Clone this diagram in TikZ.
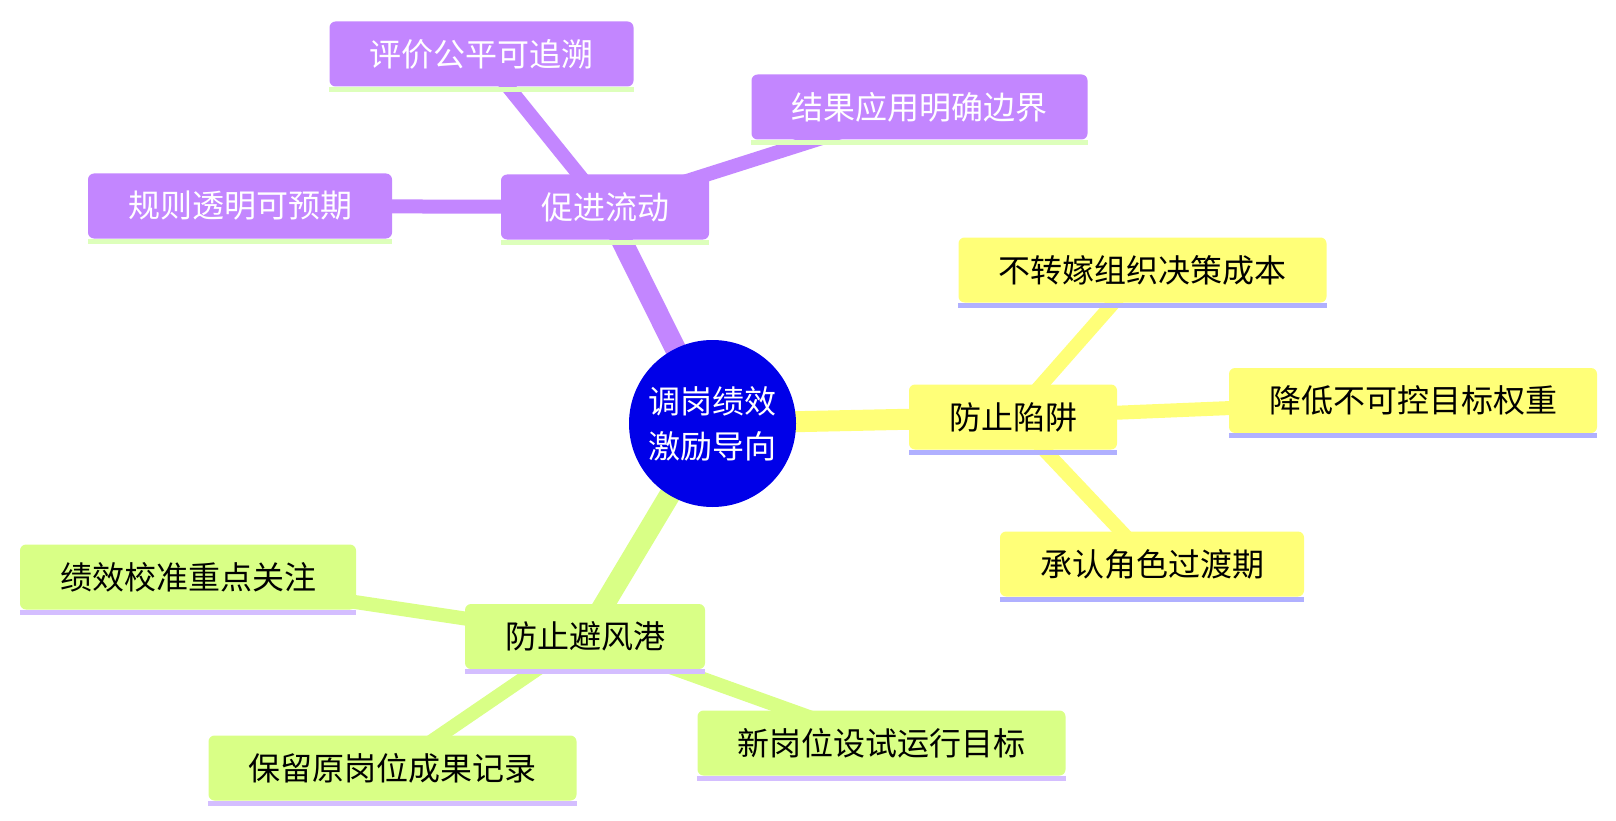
\documentclass[tikz,border=0pt]{standalone}
\usepackage{fontspec}
\setmainfont{Noto Sans CJK SC}
\usetikzlibrary{backgrounds}
\definecolor{rootblue}{RGB}{0,0,232}
\definecolor{secpurple}{RGB}{195,134,255}
\definecolor{secyellow}{RGB}{255,255,120}
\definecolor{secgreen}{RGB}{217,255,134}
\definecolor{ulpurple}{RGB}{221,255,187}
\definecolor{ulyellow}{RGB}{176,176,255}
\definecolor{ulgreen}{RGB}{212,190,255}
\tikzset{
  rootnode/.style={circle, fill=rootblue, text=white, minimum size=167pt, inner sep=0pt, align=center, font=\fontsize{32}{45}\selectfont},
  topic/.style={rectangle, rounded corners=6pt, minimum height=65pt, inner xsep=40pt, inner ysep=0pt, font=\fontsize{32}{40}\selectfont},
  purplebox/.style={topic, fill=secpurple, text=white},
  yellowbox/.style={topic, fill=secyellow, text=black},
  greenbox/.style={topic, fill=secgreen, text=black},
  trunk/.style={line width=21pt},
  twig/.style={line width=14pt}
}
\newcommand{\nodebar}[2]{\fill[#2] (#1.south west) rectangle ([yshift=-5pt]#1.south east);}

\begin{document}
\begin{tikzpicture}[x=1pt, y=-1pt]
\useasboundingbox (0,0) rectangle (1616,821);
\node[rootnode] (root) at (712.5,423.5) {调岗绩效\\激励导向};
\node[purplebox] (flow) at (605,207) {促进流动};
\node[purplebox] (fair) at (481.5,54) {评价公平可追溯};
\node[purplebox] (bound) at (919.5,107) {结果应用明确边界};
\node[purplebox] (rule) at (240,206) {规则透明可预期};
\node[yellowbox] (trap) at (1013,417) {防止陷阱};
\node[yellowbox] (cost) at (1142.5,270) {不转嫁组织决策成本};
\node[yellowbox] (weight) at (1413,400.5) {降低不可控目标权重};
\node[yellowbox] (trans) at (1152,564) {承认角色过渡期};
\node[greenbox] (haven) at (585,636.5) {防止避风港};
\node[greenbox] (calib) at (188,577) {绩效校准重点关注};
\node[greenbox] (record) at (392.5,768) {保留原岗位成果记录};
\node[greenbox] (trial) at (881.5,743) {新岗位设试运行目标};
\foreach \n in {flow,fair,bound,rule} {\nodebar{\n}{ulpurple}}
\foreach \n in {trap,cost,weight,trans} {\nodebar{\n}{ulyellow}}
\foreach \n in {haven,calib,record,trial} {\nodebar{\n}{ulgreen}}
\begin{scope}[on background layer]
\draw[trunk, secpurple] (root.center) -- (flow.center);
\draw[trunk, secyellow] (root.center) -- (trap.center);
\draw[trunk, secgreen] (root.center) -- (haven.center);
\foreach \n in {fair,bound,rule} \draw[twig, secpurple] (flow.center) -- (\n.center);
\foreach \n in {cost,weight,trans} \draw[twig, secyellow] (trap.center) -- (\n.center);
\foreach \n in {calib,record,trial} \draw[twig, secgreen] (haven.center) -- (\n.center);
\end{scope}
\end{tikzpicture}
\end{document}
